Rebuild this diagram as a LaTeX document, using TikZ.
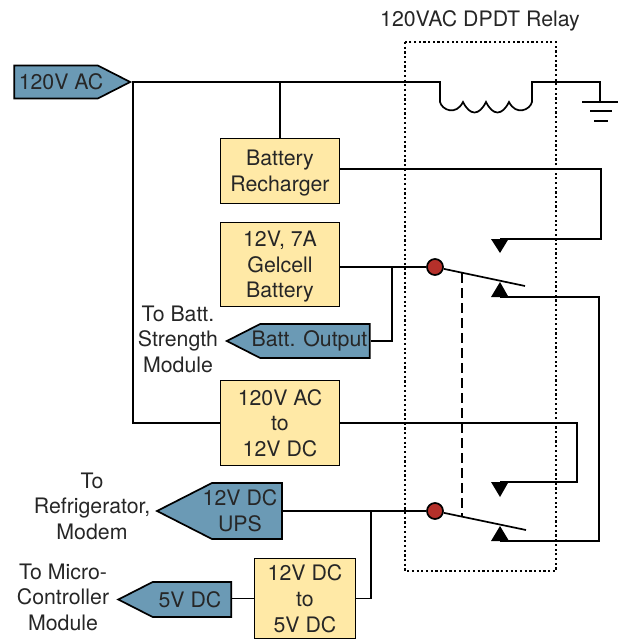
\documentclass[tikz,border=0pt]{standalone}
\usepackage{fontspec}
\setmainfont{TeX Gyre Heros}
\usetikzlibrary{shapes.symbols}
\definecolor{boxyellow}{HTML}{FFE9A6}
\definecolor{tagblue}{HTML}{6B9AB5}
\definecolor{coilred}{HTML}{B5302A}
\definecolor{textgray}{HTML}{262626}
\tikzset{
  wire/.style={line width=1.7pt, line join=miter},
  yellowbox/.style={draw, line width=1.7pt, fill=boxyellow, minimum width=119pt, inner sep=0pt, align=center,
    font=\fontsize{21.3}{25.6}\selectfont, text=textgray, text depth=0pt},
  tagshape/.style={draw, line width=1.7pt, fill=tagblue, shape=signal, signal pointer angle=54, inner sep=0pt},
  plaintext/.style={inner sep=0pt, align=center, font=\fontsize{21.3}{25.6}\selectfont, text=textgray},
  contact/.style={fill=black},
  pivot/.style={circle, draw, line width=1.7pt, fill=coilred, minimum size=16pt, inner sep=0pt},
}

\begin{document}
\begin{tikzpicture}[x=1pt,y=-1pt]
\useasboundingbox (0,0) rectangle (619,639);
% relay outline
\node[plaintext] (relaytitle) at (480,21) {120VAC DPDT Relay};
\draw[line width=2.4pt, dash pattern=on 2.2pt off 2.5pt] (405,42) rectangle (556,571);
% blocks
\node[yellowbox, minimum height=65pt] (recharger) at (280,171) {Battery\\Recharger};
\node[yellowbox, minimum height=84pt] (gelcell) at (280,264.5) {12V, 7A\\Gelcell\\Battery};
\node[yellowbox, minimum height=85pt] (converter) at (280,423) {120V AC\\to\\12V DC};
\node[yellowbox, minimum width=101pt, minimum height=80pt] (stepdown) at (305,598.5) {12V DC\\to\\5V DC};
% tags
\node[tagshape, signal to=east, minimum width=116pt, minimum height=33pt] (acin) at (56,82) {};
\node[plaintext] (acintext) at (61,82) {120V AC};
\node[tagshape, signal to=west, minimum width=143pt, minimum height=34pt] (battout) at (315,341) {};
\node[plaintext] (battouttext) at (309.5,341) {Batt. Output};
\node[tagshape, signal to=west, minimum width=125pt, minimum height=56pt] (upsout) at (247,511) {};
\node[plaintext] (upsouttext) at (240,511) {12V DC\\UPS};
\node[tagshape, signal to=west, minimum width=113pt, minimum height=35pt] (fiveout) at (192,599.5) {};
\node[plaintext] (fiveouttext) at (190,599.5) {5V DC};
% outside labels
\node[plaintext] (battlabel) at (178,339) {To Batt.\\Strength\\Module};
\node[plaintext] (fridgelabel) at (92,506) {To\\Refrigerator,\\Modem};
\node[plaintext] (microlabel) at (63,597) {To Micro-\\Controller\\Module};
% switch pivots
\node[pivot] (pivota) at (435,267) {};
\node[pivot] (pivotb) at (435,511) {};
% contacts
\coordinate (nca) at (500,239);
\coordinate (noa) at (500,297);
\coordinate (ncb) at (500,482);
\coordinate (nob) at (500,541);
\fill[contact] (491,239) -- (508.5,239) -- (500,253) -- cycle;
\fill[contact] (491,297) -- (508.5,297) -- (500,282) -- cycle;
\fill[contact] (491,482) -- (508.5,482) -- (500,497) -- cycle;
\fill[contact] (491,541) -- (509,541) -- (500,526) -- cycle;
% levers
\coordinate (levera) at (525,286);
\coordinate (leverb) at (526,530);
\draw[wire] (pivota) -- (levera);
\draw[wire] (pivotb) -- (leverb);
\draw[wire, dash pattern=on 10pt off 5pt] (462,273) -- (462,517);
% coil and ground
\coordinate (coilin) at (440,82);
\coordinate (coilout) at (532,82);
\coordinate (earth) at (600,102);
\draw[wire] (acin.east) -- (coilin) -- (440,102)
  .. controls (442,110) and (456,116) .. (463,102)
  .. controls (470,116) and (479,116) .. (486,102)
  .. controls (493,116) and (502,116) .. (509,102)
  .. controls (516,116) and (530,110) .. (532,102)
  -- (coilout) -- (600,82) -- (earth);
\draw[wire] (582,102) -- (618,102);
\draw[wire] (590,111) -- (612,111);
\draw[wire] (594,121) -- (608,121);
% wiring
\draw[wire] (133,82) -- (133,423) -- (converter.west);
\draw[wire] (recharger.north |- acin.east) -- (recharger.north);
\draw[wire] (recharger.east |- 0,169) -- (601,169) -- (601,239) -- (nca);
\draw[wire] (gelcell.east |- pivota) -- (pivota);
\draw[wire] (392,267) -- (392,341) -- (battout.east);
\draw[wire] (noa) -- (599,297) -- (599,541) -- (nob);
\draw[wire] (converter.east) -- (577,423) -- (577,482) -- (ncb);
\draw[wire] (upsout.east) -- (pivotb);
\draw[wire] (371,511) -- (371,598.5) -- (stepdown.east);
\draw[wire] (fiveout.east |- stepdown.west) -- (stepdown.west);
\end{tikzpicture}
\end{document}
